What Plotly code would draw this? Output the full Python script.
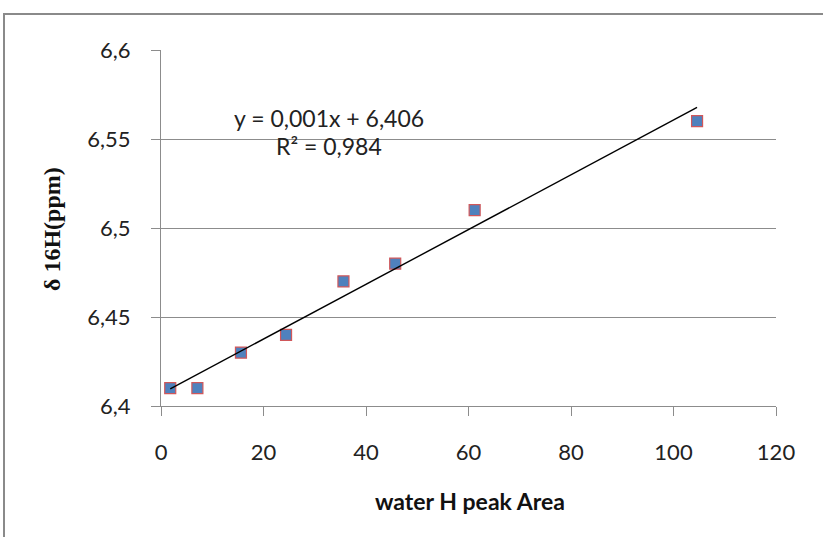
import numpy as np
import plotly.graph_objects as go

# Data
water_area = [1.8, 7.1, 15.6, 24.4, 35.6, 45.7, 61.2, 104.6]
delta_16H = [6.41, 6.41, 6.43, 6.44, 6.47, 6.48, 6.51, 6.56]

x_tick_vals = [0, 20, 40, 60, 80, 100, 120]
x_tick_text = ["0", "20", "40", "60", "80", "100", "120"]
y_tick_vals = [6.4, 6.45, 6.5, 6.55, 6.6]
y_tick_text = ["6,4", "6,45", "6,5", "6,55", "6,6"]

eq_text = "y = 0,001x + 6,406"
r2_text = "R² = 0,984"
x_title = "water H peak Area"
y_title = "δ 16H(ppm)"

# Linear trendline fitted from the data
slope, intercept = np.polyfit(water_area, delta_16H, 1)
x_fit = [min(water_area), max(water_area)]
y_fit = [slope * v + intercept for v in x_fit]

fig = go.Figure()
fig.add_trace(go.Scatter(
    x=water_area, y=delta_16H, mode="markers",
    marker=dict(symbol="square", size=11, color="#4F81BD",
                line=dict(color="#D0575A", width=1.2)),
    showlegend=False, hoverinfo="skip"))
fig.add_trace(go.Scatter(
    x=x_fit, y=y_fit, mode="lines",
    line=dict(color="#000000", width=1.4),
    showlegend=False, hoverinfo="skip"))

FONT = "Lato, 'Open Sans', sans-serif"
tick_font = dict(family=FONT, size=22, color="#222222")
eq_font = dict(family=FONT, size=23, color="#222222")

L, R, T, B = 161, 47, 50, 131
W, H = 823, 537
pw, ph = W - L - R, H - T - B


def px_x(px):
    return (px - L) / pw


def px_y(py):
    return (T + ph - py) / ph


ann_common = dict(xref="paper", yref="paper", showarrow=False,
                  xanchor="center", yanchor="middle")

fig.update_layout(
    width=W, height=H,
    margin=dict(l=L, r=R, t=T, b=B),
    paper_bgcolor="white", plot_bgcolor="white",
    xaxis=dict(range=[0, 120], tickvals=x_tick_vals, ticktext=x_tick_text,
               showgrid=False, zeroline=False, showline=True,
               linecolor="#8C8C8C", linewidth=1.3,
               ticks="outside", ticklen=9, tickcolor="#8C8C8C", tickwidth=1.3,
               ticklabelstandoff=17, tickfont=tick_font),
    yaxis=dict(range=[6.4, 6.6], tickvals=y_tick_vals, ticktext=y_tick_text,
               showgrid=True, gridcolor="#8C8C8C", gridwidth=1.2,
               zeroline=False, showline=True,
               linecolor="#8C8C8C", linewidth=1.3,
               ticks="outside", ticklen=9, tickcolor="#8C8C8C", tickwidth=1.3,
               ticklabelstandoff=16, tickfont=tick_font),
    shapes=[dict(type="rect", xref="paper", yref="paper",
                 x0=px_x(4), x1=px_x(835), y0=px_y(550), y1=px_y(14),
                 line=dict(color="#8A8A8A", width=2), fillcolor="rgba(0,0,0,0)",
                 layer="below")],
    annotations=[
        dict(text=eq_text, x=px_x(329), y=px_y(118), font=eq_font, **ann_common),
        dict(text=r2_text, x=px_x(329), y=px_y(146), font=eq_font, **ann_common),
        dict(text="<b>" + x_title + "</b>", x=px_x(470), y=px_y(501),
             font=dict(family=FONT, size=23, color="#111111"), **ann_common),
        dict(text="<b>" + y_title + "</b>", x=px_x(52), y=px_y(229), textangle=-90,
             font=dict(family="'Liberation Serif', 'DejaVu Serif', serif", size=24,
                       color="#111111"), **ann_common),
    ],
)

fig.write_html("out.html", config={"displayModeBar": False},
               post_script="document.body.style.margin='0';")
